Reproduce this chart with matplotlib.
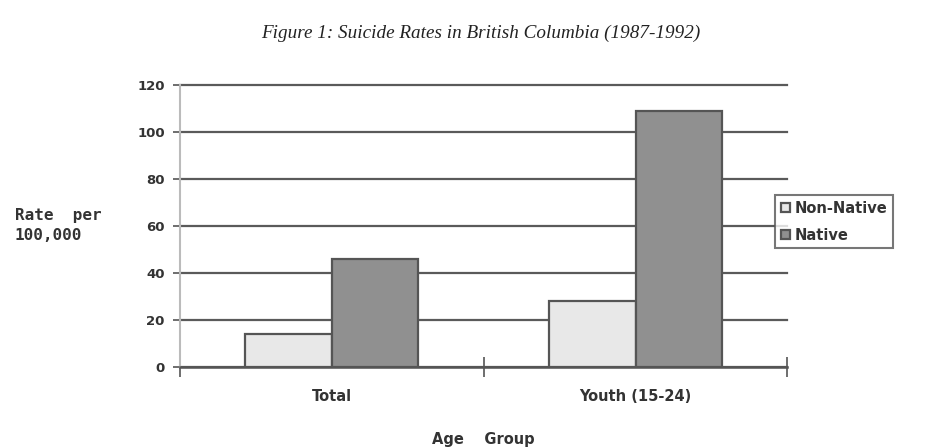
import numpy as np
import matplotlib.pyplot as plt

groups = ['Total', 'Youth (15-24)']
series = ['Non-Native', 'Native']
non_native = [14, 28]
native = [46, 109]
yticks = [0, 20, 40, 60, 80, 100, 120]

fig = plt.figure(figsize=(9.33, 4.48), dpi=100)
ax = fig.add_axes([0.193, 0.181, 0.651, 0.629])

x = np.arange(len(groups))
w = 0.285
edge = '#555555'
ax.bar(x - w / 2, non_native, w, color='#e8e8e8', edgecolor=edge, linewidth=1.6,
       label=series[0], zorder=3)
ax.bar(x + w / 2, native, w, color='#909090', edgecolor=edge, linewidth=1.6,
       label=series[1], zorder=3)

ax.set_xlim(-0.5, 1.5)
ax.set_ylim(0, 120)
ax.set_yticks(yticks)
ax.yaxis.grid(True, color='#5a5a5a', linewidth=1.6, zorder=0)
for gl in ax.get_ygridlines():
    gl.set_clip_on(False)
ax.set_axisbelow(True)

for s in ['top', 'right']:
    ax.spines[s].set_visible(False)
ax.spines['left'].set_color('#bbbbbb')
ax.spines['left'].set_linewidth(1.5)
ax.spines['bottom'].set_color('#555555')
ax.spines['bottom'].set_linewidth(1.8)

# category labels sit between the boundary ticks
ax.set_xticks([-0.5, 0.5, 1.5])
ax.set_xticklabels([])
ax.set_xticks(x, minor=True)
ax.set_xticklabels(groups, minor=True, fontsize=10.5, fontweight='bold', color='#333333')
ax.tick_params(axis='x', which='minor', length=0, pad=16)
ax.tick_params(axis='x', which='major', direction='inout', length=14, width=1.2,
               color='#555555')
ax.tick_params(axis='y', length=5, width=1.2, color='#555555', labelsize=9.5,
               labelcolor='#333333', pad=6)
for t in ax.get_yticklabels():
    t.set_fontweight('bold')

ax.set_xlabel('Age    Group', fontsize=10.5, fontweight='bold', color='#333333', labelpad=20)
fig.text(0.016, 0.497, 'Rate  per\n100,000', fontsize=11.5, fontweight='bold',
         family='DejaVu Sans Mono', color='#333333', ha='left', va='center',
         linespacing=1.4)

fig.suptitle('Figure 1: Suicide Rates in British Columbia (1987-1992)', x=0.515, y=0.945,
             fontsize=13.8, fontstyle='italic', family='Liberation Serif', color='#222222')

leg = ax.legend(loc='center left', bbox_to_anchor=(0.980, 0.515), fontsize=10.5,
                frameon=True, fancybox=False, edgecolor='#555555', handlelength=0.6,
                handleheight=0.6, handletextpad=0.3, borderpad=0.4, labelspacing=0.8,
                borderaxespad=0)
leg.get_frame().set_linewidth(1.5)
for t in leg.get_texts():
    t.set_fontweight('bold')
    t.set_color('#333333')

fig.savefig('out.png', dpi=100)
